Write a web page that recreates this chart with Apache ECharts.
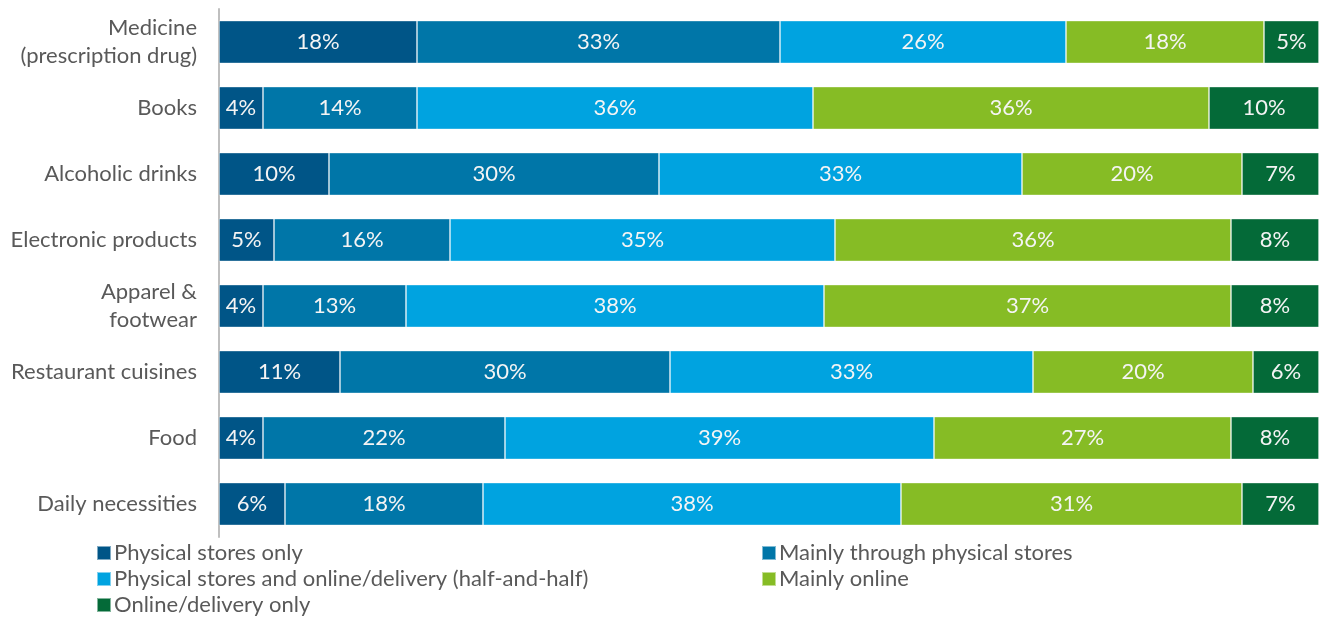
<!DOCTYPE html>
<html>
<head>
<meta charset="utf-8">
<script src="https://cdn.jsdelivr.net/npm/echarts@6/dist/echarts.min.js"></script>
<style>
  html, body { margin: 0; padding: 0; background: #fff; }
  #chart { width: 1320px; height: 619px; }
</style>
</head>
<body>
<div id="chart"></div>
<script>
// Product categories, top to bottom
const categories = [
  'Medicine\n(prescription drug)',
  'Books',
  'Alcoholic drinks',
  'Electronic products',
  'Apparel &\nfootwear',
  'Restaurant cuisines',
  'Food',
  'Daily necessities'
];

// Share of respondents (%) per purchase channel, same order as categories
const physicalOnly   = [18, 4, 10, 5, 4, 11, 4, 6];
const mainlyPhysical = [33, 14, 30, 16, 13, 30, 22, 18];
const halfAndHalf    = [26, 36, 33, 35, 38, 33, 39, 38];
const mainlyOnline   = [18, 36, 20, 36, 37, 20, 27, 31];
const onlineOnly     = [5, 10, 7, 8, 8, 6, 8, 7];

const seriesNames = [
  'Physical stores only',
  'Mainly through physical stores',
  'Physical stores and online/delivery (half-and-half)',
  'Mainly online',
  'Online/delivery only'
];
const seriesValues = [physicalOnly, mainlyPhysical, halfAndHalf, mainlyOnline, onlineOnly];
const colors = ['#005587', '#0076A8', '#00A3E0', '#86BC25', '#046A38'];

const FONT = 'Lato';
const TEXT = '#595959';
const SIZE = 22;

const chart = echarts.init(document.getElementById('chart'), null, { renderer: 'canvas' });

const series = seriesValues.map((vals, i) => ({
  name: seriesNames[i],
  type: 'bar',
  stack: 'total',
  barCategoryGap: '35%',
  data: vals,
  itemStyle: { color: colors[i], borderColor: 'rgba(255,255,255,0.5)', borderWidth: 0.8 },
  label: {
    show: true,
    position: 'inside',
    formatter: p => p.value + '%',
    color: '#F4F4F4',
    fontFamily: FONT,
    fontWeight: 400,
    fontSize: SIZE
  },
  emphasis: { disabled: true }
}));

const legendText = { color: TEXT, fontFamily: FONT, fontWeight: 400, fontSize: SIZE };

// One legend entry per block so each sits in its own column/row slot
const legendSlots = [
  { name: seriesNames[0], left: 96, top: 542 },
  { name: seriesNames[1], left: 761, top: 542 },
  { name: seriesNames[2], left: 96, top: 568 },
  { name: seriesNames[3], left: 761, top: 568 },
  { name: seriesNames[4], left: 96, top: 594 }
];

chart.setOption({
  animation: false,
  color: colors,
  grid: { left: 219, right: 1, top: 9, height: 528, containLabel: false },
  legend: legendSlots.map(s => ({
    left: s.left, top: s.top, padding: 0,
    itemWidth: 14, itemHeight: 14, itemGap: 0,
    icon: 'rect', textStyle: Object.assign({ padding: [0, 0, 0, -2] }, legendText),
    data: [s.name]
  })),
  xAxis: {
    type: 'value', min: 0, max: 100,
    show: false
  },
  yAxis: {
    type: 'category',
    inverse: true,
    data: categories,
    axisLine: { show: true, lineStyle: { color: '#BFBFBF', width: 2 } },
    axisTick: { show: false },
    axisLabel: {
      color: TEXT, fontFamily: FONT, fontWeight: 400, fontSize: SIZE,
      margin: 22, align: 'right', lineHeight: 28
    }
  },
  series: series
});
</script>
</body>
</html>
